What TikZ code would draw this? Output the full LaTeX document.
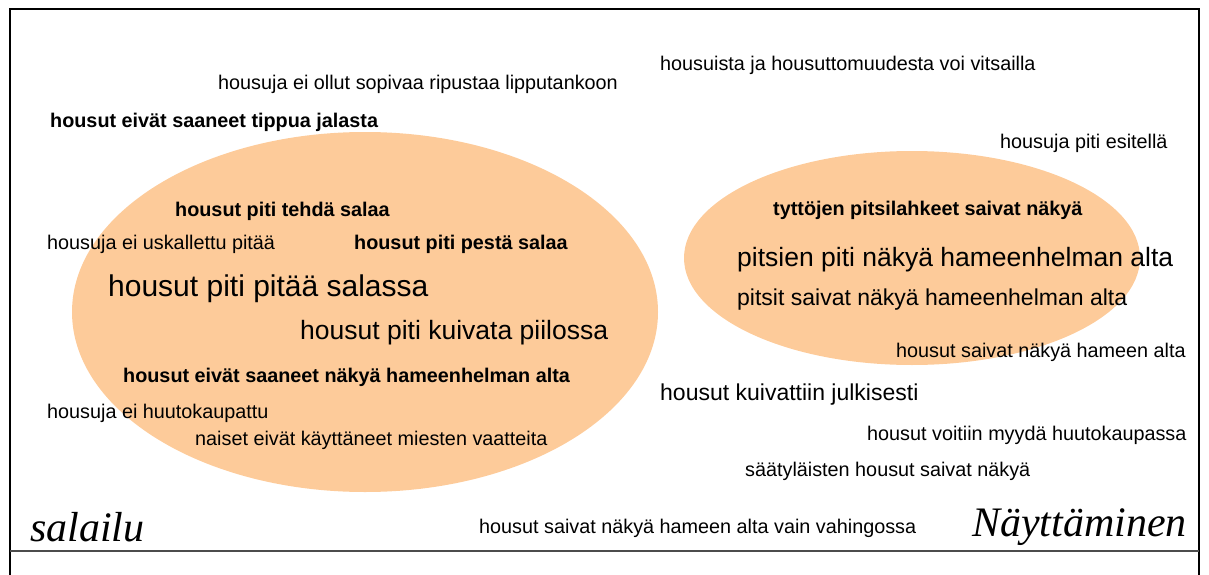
\documentclass[tikz,border=0pt]{standalone}
\usepackage{fontspec}
\setmainfont{Liberation Sans}
\newfontfamily\endsfont{Liberation Serif}
\usetikzlibrary{positioning}
\definecolor{peach}{HTML}{FDCB9A}

\begin{document}
\begin{tikzpicture}[x=1pt,y=-1pt,
    txt/.style={anchor=west,inner sep=0pt,yshift=-2pt,font=\fontsize{19.8}{23}\selectfont},
    bld/.style={txt,font=\fontsize{19.8}{23}\selectfont\bfseries},
    mid/.style={txt,font=\fontsize{23}{27}\selectfont},
    big/.style={txt,font=\fontsize{26.5}{31}\selectfont},
    huge/.style={txt,font=\fontsize{30}{35}\selectfont},
    title/.style={anchor=west,inner sep=0pt,font=\fontsize{42}{47}\selectfont\endsfont\itshape}]
  \useasboundingbox (0,0) rectangle (1209,575);
  % frame
  \draw[line width=2pt] (10,575) -- (10,9) -- (1199,9) -- (1199,575);
  \draw[line width=1.5pt,black!70] (10,551) -- (1199,551);
  % areas
  \fill[peach] (365,312) ellipse [x radius=293,y radius=180];
  \fill[peach] (912,258) ellipse [x radius=228,y radius=107];
  % salailu side
  \node[txt] (n1) at (218,82) {housuja ei ollut sopivaa ripustaa lipputankoon};
  \node[bld] (n2) at (50,120) {housut eivät saaneet tippua jalasta};
  \node[bld] (n3) at (175,209) {housut piti tehdä salaa};
  \node[txt] (n4) at (47,242) {housuja ei uskallettu pitää};
  \node[bld] (n5) at (354,242) {housut piti pestä salaa};
  \node[huge] (n6) at (108,287) {housut piti pitää salassa};
  \node[big] (n7) at (300,331) {housut piti kuivata piilossa};
  \node[bld] (n8) at (123,375) {housut eivät saaneet näkyä hameenhelman alta};
  \node[txt] (n9) at (47,411) {housuja ei huutokaupattu};
  \node[txt] (n10) at (195,438) {naiset eivät käyttäneet miesten vaatteita};
  % näyttäminen side
  \node[txt] (m1) at (660,63) {housuista ja housuttomuudesta voi vitsailla};
  \node[txt] (m2) at (1000,141) {housuja piti esitellä};
  \node[bld] (m3) at (773,208) {tyttöjen pitsilahkeet saivat näkyä};
  \node[big] (m4) at (737,258) {pitsien piti näkyä hameenhelman alta};
  \node[mid] (m5) at (737,298) {pitsit saivat näkyä hameenhelman alta};
  \node[txt] (m6) at (896,350) {housut saivat näkyä hameen alta};
  \node[mid] (m7) at (660,393) {housut kuivattiin julkisesti};
  \node[txt] (m8) at (867,433) {housut voitiin myydä huutokaupassa};
  \node[txt] (m9) at (745,469) {säätyläisten housut saivat näkyä};
  \node[txt] (m10) at (479,526) {housut saivat näkyä hameen alta vain vahingossa};
  % axis ends
  \node[title] (sal) at (30,527) {salailu};
  \node[title] (nay) at (972,527) {Näyttäminen};
\end{tikzpicture}
\end{document}
